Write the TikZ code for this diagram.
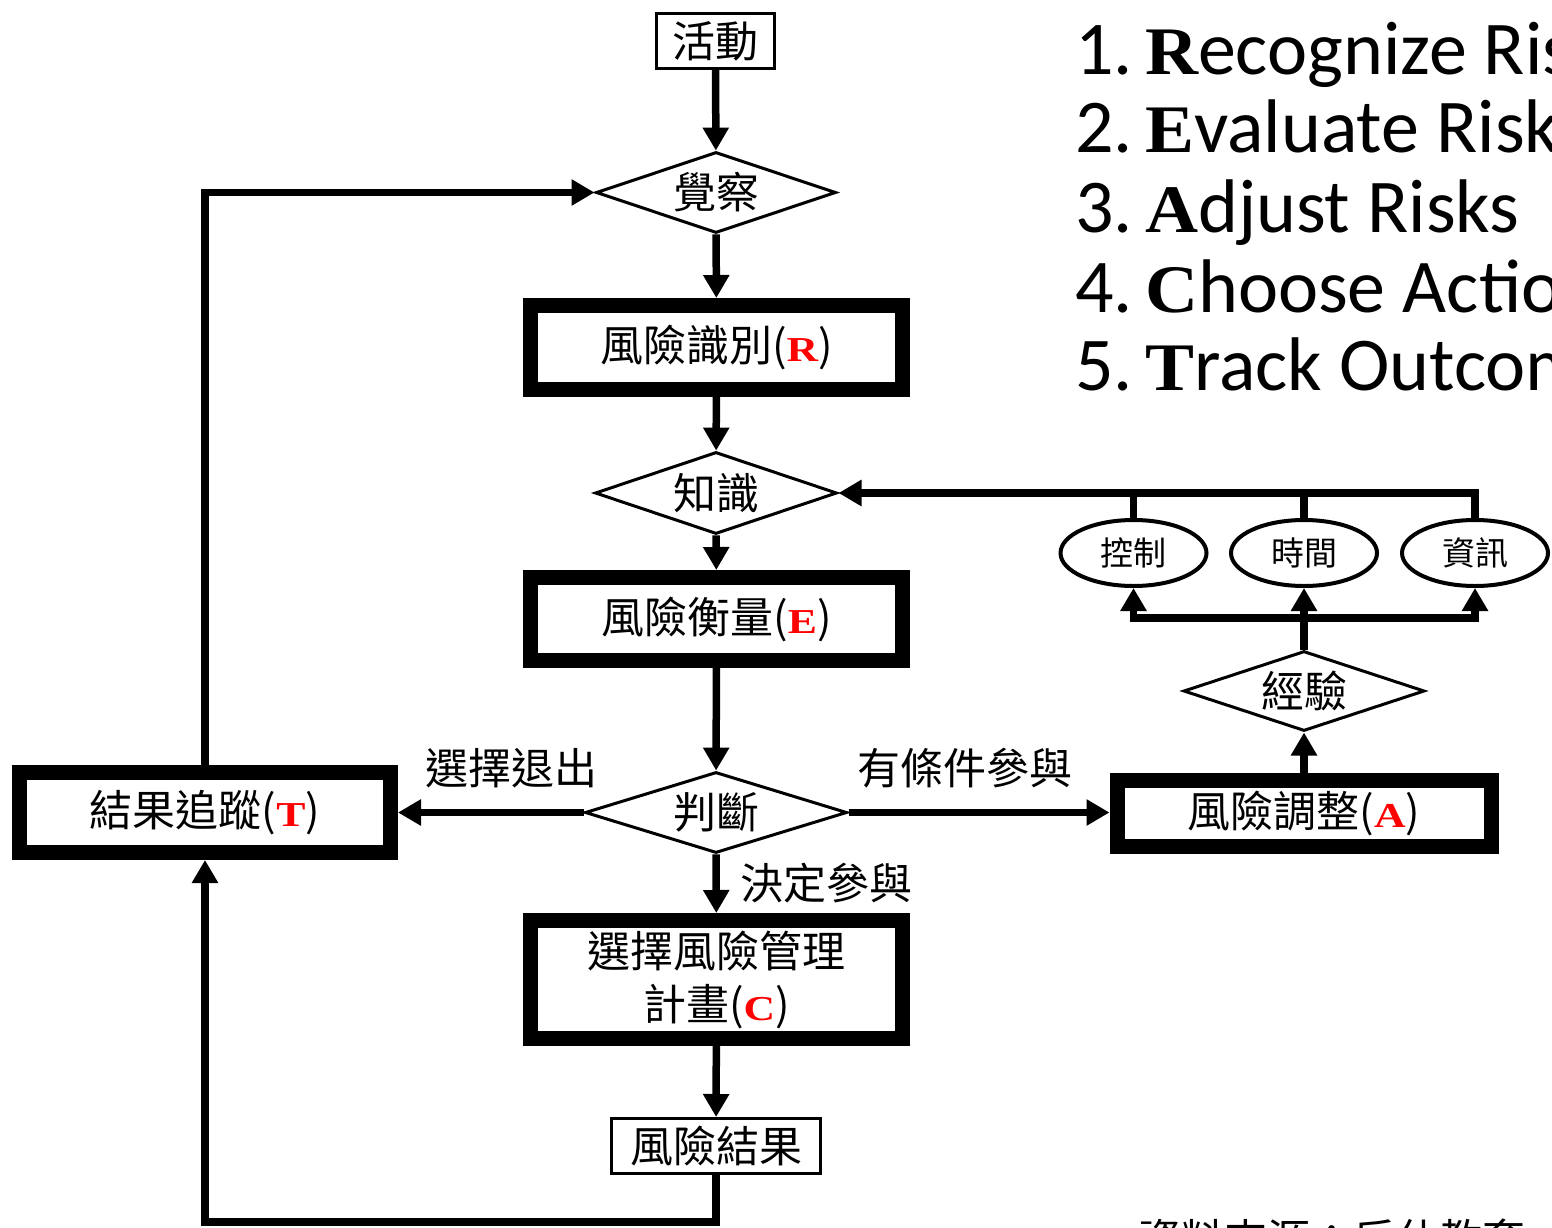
\documentclass[tikz,border=0pt]{standalone}
\usepackage{graphicx}
\usepackage{fontspec}
\setmainfont{Noto Sans CJK TC}
\newfontfamily\carl{Carlito}
\newfontfamily\serifb{Liberation Serif}
\usetikzlibrary{arrows.meta,shapes.geometric}
\newcommand\cjkfs{\fontsize{43}{53}\selectfont}
\newcommand\redletter[1]{{\fontsize{35}{40}\selectfont\serifb\bfseries\color{red}\scalebox{1.25}[1]{#1}}}
\newcommand\bigletter[1]{{\fontsize{68}{70}\selectfont\serifb\bfseries\scalebox{1.08}[1]{#1}}}
\begin{document}
\begin{tikzpicture}[x=1pt,y=-1pt,
  thinbox/.style={draw,line width=3pt,inner sep=0pt,font=\cjkfs},
  thickbox/.style={draw,line width=15pt,inner sep=0pt,font=\cjkfs,align=center},
  dia/.style={draw,diamond,aspect=3,inner sep=0pt,line width=3pt,font=\cjkfs},
  ell/.style={draw,ellipse,line width=4pt,inner sep=0pt,minimum width=146pt,minimum height=66pt,font=\fontsize{33}{36}\selectfont},
  lbl/.style={inner sep=0pt,font=\cjkfs},
  arr/.style={line width=7.5pt,-{Triangle[width=25pt,length=23pt]}},
  ln/.style={line width=7.5pt},
  listtxt/.style={anchor=base west,inner sep=0pt,font=\carl\fontsize{76}{79}\selectfont}
]
\useasboundingbox (0,0) rectangle (1552,1228);

% nodes
\node[thinbox,minimum width=118pt,minimum height=55pt] (act) at (715.5,41) {活動};
\node[dia,minimum width=240pt,minimum height=81pt] (aware) at (716,192.5) {覺察};
\node[thickbox,minimum width=372pt,minimum height=84pt] (R) at (716.5,347.5) {風險識別(\redletter{R})};
\node[dia,minimum width=242pt,minimum height=82pt] (know) at (716,493) {知識};
\node[thickbox,minimum width=372pt,minimum height=83pt] (E) at (716.5,619) {風險衡量(\redletter{E})};
\node[dia,minimum width=262pt,minimum height=81pt] (judge) at (716,812.5) {判斷};
\node[thickbox,minimum width=372pt,minimum height=118pt] (C) at (716.5,979.5) {選擇風險管理\\計畫(\redletter{C})};
\node[thinbox,minimum width=209pt,minimum height=55pt] (result) at (716,1146) {風險結果};
\node[thickbox,minimum width=371pt,minimum height=80pt] (T) at (205,812.5) {結果追蹤(\redletter{T})};
\node[thickbox,minimum width=374pt,minimum height=66pt] (A) at (1304,813.5) {風險調整(\redletter{A})};
\node[dia,minimum width=241pt,minimum height=80pt] (exp) at (1304,691) {經驗};
\node[ell] (ctrl) at (1133.5,553) {控制};
\node[ell] (time) at (1304,553) {時間};
\node[ell] (info) at (1475,553) {資訊};

% labels
\node[lbl] (lout) at (511,768) {選擇退出};
\node[lbl] (lcond) at (965,768) {有條件參與};
\node[lbl] (ldec) at (826,883) {決定參與};

% list
\node[listtxt] (t1) at (1075,75) {1.\hspace{0.16em}\bigletter{R}ecognize Risks};
\node[listtxt] (t2) at (1075,153) {2.\hspace{0.16em}\bigletter{E}valuate Risks};
\node[listtxt] (t3) at (1075,232) {3.\hspace{0.16em}\bigletter{A}djust Risks};
\node[listtxt] (t4) at (1075,312) {4.\hspace{0.16em}\bigletter{C}hoose Actions};
\node[listtxt] (t5) at (1075,390) {5.\hspace{0.16em}\bigletter{T}rack Outcomes};

\node[lbl,anchor=west] (src) at (1138,1239) {資料來源：后仕教育};

% connectors
\draw[arr] (act) -- (aware);
\draw[arr] (aware) -- (R);
\draw[arr] (R) -- (know);
\draw[arr] (know) -- (E);
\draw[arr] (E) -- (judge);
\draw[arr] (judge) -- (C);
\draw[arr] (C) -- (result);
\draw[arr] (judge.west) -- (judge.west -| T.east);
\draw[arr] (judge.east) -- (judge.east -| A.west);
\draw[arr] (A) -- (exp);
\coordinate (br) at (1304,618);
\draw[ln] (exp.north) -- (br);
\draw[arr] (br) -| (ctrl);
\draw[arr] (br) -- (time);
\draw[arr] (br) -| (info);
\draw[arr] (info.north) |- (know.east);
\draw[ln] (ctrl.north) -- (ctrl.north |- know.east);
\draw[ln] (time.north) -- (time.north |- know.east);
\draw[arr] (T.north) |- (aware.west);
\coordinate (bl) at (716,1222);
\draw[arr] (result.south) -- (bl) -| (T.south);
\end{tikzpicture}
\end{document}
